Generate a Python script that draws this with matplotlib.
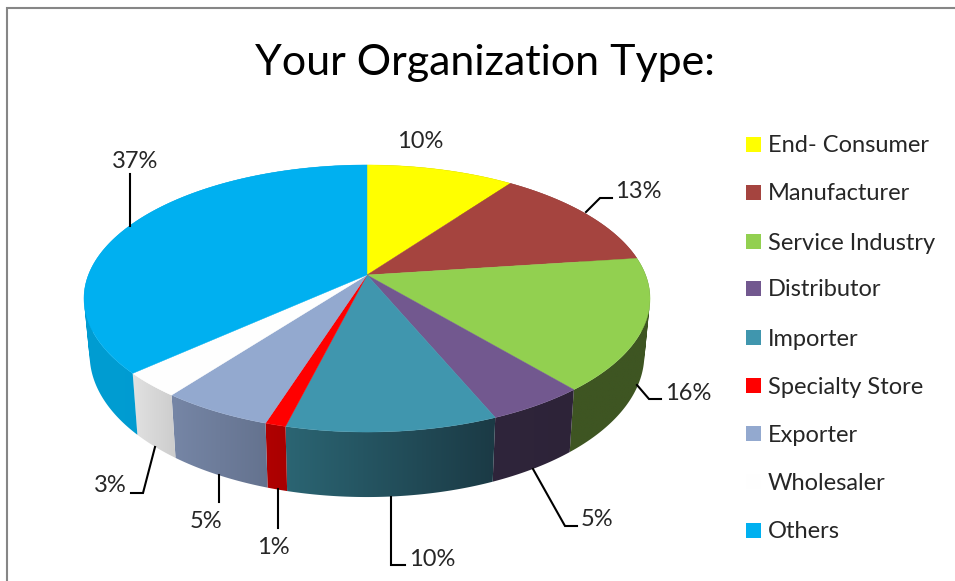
import numpy as np
import matplotlib
matplotlib.use("Agg")
import matplotlib.pyplot as plt
from matplotlib.colors import to_rgb
from matplotlib.patches import PathPatch, Rectangle
from matplotlib.path import Path

plt.rcParams["font.family"] = ["Lato", "DejaVu Sans"]

categories = ["End- Consumer", "Manufacturer", "Service Industry", "Distributor", "Importer",
              "Specialty Store", "Exporter", "Wholesaler", "Others"]
shares = [10.0, 12.9, 16.0, 4.8, 10.2, 1.0, 5.4, 3.0, 36.7]
pct_labels = ["10%", "13%", "16%", "5%", "10%", "1%", "5%", "3%", "37%"]

top_colors = ["#ffff00", "#a5443f", "#92d050", "#72588f", "#4096ae", "#ff0000", "#93a9cf", "#fefefe", "#00b0f0"]
side_left = ["#8a8a00", "#6b2b2a", "#3e5522", "#2f253b", "#2b6573", "#b00000", "#7686a6", "#e2e2e2", "#009dd2"]
side_right = ["#8a8a00", "#6b2b2a", "#3e5522", "#2d2338", "#1b3a45", "#a80000", "#64728e", "#cccccc", "#0096cc"]

# label centre and leader line, pixels
label_pos = [(420, 142), (638, 192), (688, 394), (597, 520), (432, 559), (273, 548), (206, 521), (110, 486), (135, 161)]
leaders = [None,
           [(586, 212), (600, 198), (612, 198)],
           [(637, 385), (649, 399), (661, 399)],
           [(533, 469), (565, 526), (577, 526)],
           [(391, 497), (391, 565), (405, 565)],
           [(278, 489), (278, 528)],
           [(219, 475), (219, 502)],
           [(155, 447), (143, 493), (131, 493)],
           [(130, 174), (130, 226)]]
legend_y = [144, 192, 241, 288, 337, 385, 433, 481, 530]

# perspective of the pie disc
cx, cy = 367, 275
f, g, k = 278.6, 129.4, 0.176


def top_rim(theta):
    X, Y = np.sin(theta), np.cos(theta)
    d = 1 + k * Y
    return cx + f * X / d, cy - g * Y / d


def bottom_rim(theta):
    x, y = top_rim(theta)
    return cx + (x - cx) * 0.98, y + 54 - 11 * np.cos(theta)


def wall_path(th):
    # union of thin quads, all wound the same way so nonzero fill has no holes
    xt, yt = top_rim(th)
    xb, yb = bottom_rim(th)
    parts = []
    for j in range(len(th) - 1):
        q = np.array([(xt[j], yt[j]), (xt[j + 1], yt[j + 1]), (xb[j + 1], yb[j + 1]), (xb[j], yb[j])])
        area = np.sum(q[:, 0] * np.roll(q[:, 1], -1) - np.roll(q[:, 0], -1) * q[:, 1])
        if area < 0:
            q = q[::-1]
        parts.append(Path(np.vstack([q, q[0]]), closed=True))
    return Path.make_compound_path(*parts)


fig = plt.figure(figsize=(9.55, 5.81), dpi=100)
ax = fig.add_axes([0, 0, 1, 1])
ax.axis("off")

edges = np.radians(np.concatenate([[0], np.cumsum(shares)]) * 3.6)

# side walls first, the top disc covers whatever is behind it
for i in range(len(shares)):
    th = np.linspace(edges[i], edges[i + 1], max(4, int(shares[i] * 8)))
    patch = PathPatch(wall_path(th), facecolor="none", edgecolor="none")
    ax.add_patch(patch)
    xb, _ = bottom_rim(th)
    xt, yt = top_rim(th)
    _, yb = bottom_rim(th)
    extent = (min(xb.min(), xt.min()) - 1, max(xb.max(), xt.max()) + 1, yb.max() + 2, yt.min() - 2)
    grad = np.linspace(to_rgb(side_left[i]), to_rgb(side_right[i]), 64)[None, :, :]
    im = ax.imshow(grad, extent=extent, aspect="auto", zorder=1, interpolation="bilinear")
    im.set_clip_path(patch)

for i in range(len(shares)):
    th = np.linspace(edges[i], edges[i + 1], 120)
    xt, yt = top_rim(th)
    ax.fill(np.r_[cx, xt], np.r_[cy, yt], facecolor=top_colors[i], edgecolor=top_colors[i], lw=0.3, zorder=2)

ax.set_xlim(0, 955)
ax.set_ylim(581, 0)

# leaders and percent labels
for i in range(len(shares)):
    if leaders[i] is not None:
        ax.plot(*zip(*leaders[i]), color="black", lw=1.5, zorder=3, solid_joinstyle="miter")
    ax.text(label_pos[i][0], label_pos[i][1], pct_labels[i], ha="center", va="center", fontsize=17, color="#262626", zorder=4)

# legend
for name, col, y in zip(categories, top_colors, legend_y):
    ax.add_patch(Rectangle((746, y - 7.5), 15, 15, facecolor=col, edgecolor="none", zorder=3))
    ax.text(768, y + 2, name, ha="left", va="center", fontsize=17, color="#262626")

ax.text(485, 63, "Your Organization Type:", ha="center", va="center", fontsize=31, color="black")

# chart frame, only top and left are in the crop
ax.plot([6.5, 6.5, 955], [581, 7.5, 7.5], color="#868686", lw=1.5, zorder=5, solid_joinstyle="miter")

fig.savefig("out.png", dpi=100)
